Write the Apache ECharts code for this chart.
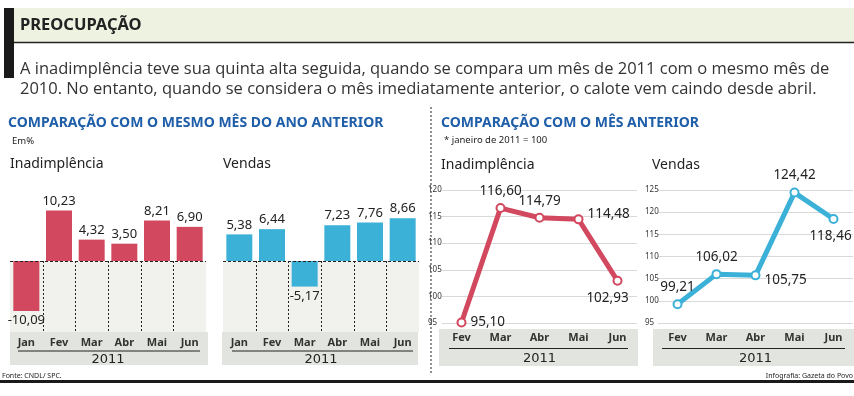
<!DOCTYPE html>
<html>
<head>
<meta charset="utf-8">
<script src="https://cdn.jsdelivr.net/npm/echarts@6.0.0/dist/echarts.min.js"></script>
<style>
  html, body { margin: 0; padding: 0; background: #fff; }
  #chart { width: 854px; height: 396px; }
</style>
</head>
<body>
<div id="chart"></div>
<script>
// dados
var mesesAno = ['Jan', 'Fev', 'Mar', 'Abr', 'Mai', 'Jun'];
var inadAnual = [-10.09, 10.23, 4.32, 3.50, 8.21, 6.90];
var vendasAnual = [5.38, 6.44, -5.17, 7.23, 7.76, 8.66];

var mesesMes = ['Fev', 'Mar', 'Abr', 'Mai', 'Jun'];
var inadMensal = [95.10, 116.60, 114.79, 114.48, 102.93];
var vendasMensal = [99.21, 106.02, 105.75, 124.42, 118.46];

var anoLabel = '2011';

var COND = "'Noto Sans', 'DejaVu Sans', sans-serif";
var RED = '#d2485e';
var BLUE = '#3cb1d8';
var BAR_MIN = -14.35, BAR_MAX = 14.35;

function fmt(v) { return v.toFixed(2).replace('.', ','); }

// posicao dos rotulos nas linhas
var inadLabelPos = [
  { position: 'right', distance: 4 },
  { position: 'top' },
  { position: 'top' },
  { position: 'right', distance: 4, offset: [0, -5] },
  { position: 'bottom', offset: [-10, 0] }
];
var vendasLabelPos = [
  { position: 'top' },
  { position: 'top' },
  { position: 'right', distance: 4, offset: [0, 5] },
  { position: 'top' },
  { position: 'bottom', offset: [-3, 0] }
];

function barData(values) {
  return values.map(function (v) {
    return { value: v, label: { position: v < 0 ? 'bottom' : 'top' } };
  });
}

function lineData(values, pos) {
  return values.map(function (v, i) {
    return { value: v, label: pos[i] };
  });
}

// linhas tracejadas entre os meses (abaixo do zero)
function divider(params, api) {
  var idx = api.value(0);
  var w = api.size([1, 0])[0];
  var p0 = api.coord([idx, 0]);
  var p1 = api.coord([idx, BAR_MIN]);
  var x = Math.round(p0[0] - w / 2) + 0.5;
  return {
    type: 'line',
    shape: { x1: x, y1: p0[1], x2: x, y2: p1[1] },
    style: { stroke: '#222', lineWidth: 1, lineDash: [2, 2] }
  };
}
var dividerIdx = mesesAno.slice(1).map(function (m, i) { return [i + 1, 0]; });

function barXAxis(grid) {
  return {
    type: 'category', gridIndex: grid, data: mesesAno,
    axisLine: { show: false }, axisTick: { show: false },
    axisLabel: { margin: 5, fontSize: 11, fontFamily: COND, fontWeight: 'bold', color: '#333' },
    name: anoLabel, nameLocation: 'middle', nameGap: 21,
    nameTextStyle: { fontSize: 13, fontFamily: "'DejaVu Sans', sans-serif", color: '#222' }
  };
}
function barYAxis(grid) {
  return { type: 'value', gridIndex: grid, min: BAR_MIN, max: BAR_MAX, show: false, splitLine: { show: false } };
}
function lineXAxis(grid) {
  return {
    type: 'category', gridIndex: grid, data: mesesMes,
    axisLine: { show: false }, axisTick: { show: false },
    axisLabel: { margin: 9, fontSize: 11, fontFamily: COND, fontWeight: 'bold', color: '#333' },
    name: anoLabel, nameLocation: 'middle', nameGap: 29,
    nameTextStyle: { fontSize: 13, fontFamily: "'DejaVu Sans', sans-serif", color: '#222' }
  };
}
function lineYAxis(grid, max, margin) {
  return {
    type: 'value', gridIndex: grid, min: 95, max: max, interval: 5,
    axisLine: { show: false }, axisTick: { show: false },
    axisLabel: { align: 'left', margin: margin, fontSize: 8, fontFamily: COND, color: '#333' },
    splitLine: { lineStyle: { color: '#d9d9d9', width: 1 } }
  };
}

function barSeries(idx, values, color) {
  return {
    type: 'bar', xAxisIndex: idx, yAxisIndex: idx, data: barData(values),
    barWidth: 26, itemStyle: { color: color },
    label: { show: true, distance: 3, fontSize: 13, fontFamily: COND, color: '#222',
      formatter: function (p) { return fmt(p.value); } },
    markArea: { silent: true, itemStyle: { color: '#f1f1ee' },
      data: [[{ yAxis: BAR_MIN }, { yAxis: 0 }]] },
    markLine: { silent: true, symbol: 'none', label: { show: false },
      lineStyle: { color: '#222', type: [3, 2], width: 1 },
      data: [{ yAxis: 0 }] },
    z: 3
  };
}
function dividerSeries(idx) {
  return {
    type: 'custom', xAxisIndex: idx, yAxisIndex: idx, data: dividerIdx,
    renderItem: divider, silent: true, z: 2
  };
}
function lineSeries(idx, values, color, pos) {
  return {
    type: 'line', xAxisIndex: idx, yAxisIndex: idx, data: lineData(values, pos),
    lineStyle: { color: color, width: 5 },
    symbol: 'circle', symbolSize: 8,
    itemStyle: { color: '#fff', borderColor: color, borderWidth: 2 },
    label: { show: true, fontSize: 13.5, fontFamily: COND, color: '#222',
      formatter: function (p) { return fmt(p.value); } },
    z: 3
  };
}

function txt(text, x, y, size, opts) {
  opts = opts || {};
  return {
    type: 'text', x: x, y: y, silent: true, z: 10,
    style: {
      text: text, fontSize: size, fontFamily: opts.family || COND,
      fontWeight: opts.weight || 'normal', fill: opts.color || '#222',
      verticalAlign: 'middle', align: opts.align || 'left'
    }
  };
}
function rect(x, y, w, h, color) {
  return { type: 'rect', shape: { x: x, y: y, width: w, height: h }, style: { fill: color }, silent: true, z: 0 };
}
function hline(x1, x2, y, color, width) {
  return { type: 'line', shape: { x1: x1, y1: y, x2: x2, y2: y }, style: { stroke: color, lineWidth: width }, silent: true, z: 1 };
}

var BAND = '#e2e5df';
var SANS = "'Open Sans', 'DejaVu Sans', sans-serif";

var chart = echarts.init(document.getElementById('chart'));
chart.setOption({
  animation: false,
  backgroundColor: '#fff',
  grid: [
    { left: 10, top: 190, width: 196, height: 142, containLabel: false, outerBoundsMode: 'none' },
    { left: 223, top: 190, width: 196, height: 142, containLabel: false, outerBoundsMode: 'none' },
    { left: 442, top: 190, width: 195, height: 133, containLabel: false, outerBoundsMode: 'none' },
    { left: 658, top: 190, width: 195, height: 133, containLabel: false, outerBoundsMode: 'none' }
  ],
  xAxis: [barXAxis(0), barXAxis(1), lineXAxis(2), lineXAxis(3)],
  yAxis: [barYAxis(0), barYAxis(1), lineYAxis(2, 120, 14), lineYAxis(3, 125, 13)],
  series: [
    dividerSeries(0), dividerSeries(1),
    barSeries(0, inadAnual, RED),
    barSeries(1, vendasAnual, BLUE),
    lineSeries(2, inadMensal, RED, inadLabelPos),
    lineSeries(3, vendasMensal, BLUE, vendasLabelPos)
  ],
  graphic: [
    // cabecalho
    rect(14, 8, 840, 34, '#eef2e0'),
    hline(14, 854, 42.5, '#222', 1.5),
    rect(4, 8, 10, 70, '#1a1a1a'),
    txt('PREOCUPAÇÃO', 20, 25, 16.5, { weight: 'bold' }),
    txt('A inadimplência teve sua quinta alta seguida, quando se compara um mês de 2011 com o mesmo mês de', 20, 69, 16.5, { family: SANS, color: '#333' }),
    txt('2010. No entanto, quando se considera o mês imediatamente anterior, o calote vem caindo desde abril.', 20, 89, 16.5, { family: SANS, color: '#333' }),

    // secao esquerda
    txt('COMPARAÇÃO COM O MESMO MÊS DO ANO ANTERIOR', 8, 123, 14, { weight: 'bold', color: '#1f5ea8' }),
    txt('Em%', 12, 141, 9.5),
    txt('Inadimplência', 10, 164, 14),
    txt('Vendas', 223, 164, 14),
    rect(10, 332, 198, 33, BAND),
    rect(222, 332, 196, 33, BAND),
    hline(18, 200, 351, '#222', 1),
    hline(232, 413, 351, '#222', 1),

    // separador
    { type: 'line', shape: { x1: 431, y1: 107, x2: 431, y2: 373 }, style: { stroke: '#222', lineWidth: 1, lineDash: [2, 2] }, silent: true },

    // secao direita
    txt('COMPARAÇÃO COM O MÊS ANTERIOR', 441, 123, 14, { weight: 'bold', color: '#1f5ea8' }),
    txt('* janeiro de 2011 = 100', 444, 140, 9.5),
    txt('Inadimplência', 441, 165, 14),
    txt('Vendas', 652, 165, 14),
    rect(439, 329, 199, 37, BAND),
    rect(653, 329, 201, 37, BAND),
    hline(449, 628, 348.5, '#222', 1),
    hline(662, 845, 348.5, '#222', 1),

    // rodape
    txt('Fonte: CNDL/ SPC.', 2, 376, 7),
    txt('Infografia: Gazeta do Povo', 853, 376, 7, { align: 'right' }),
    rect(0, 380, 854, 3, '#1a1a1a')
  ]
});
</script>
</body>
</html>
